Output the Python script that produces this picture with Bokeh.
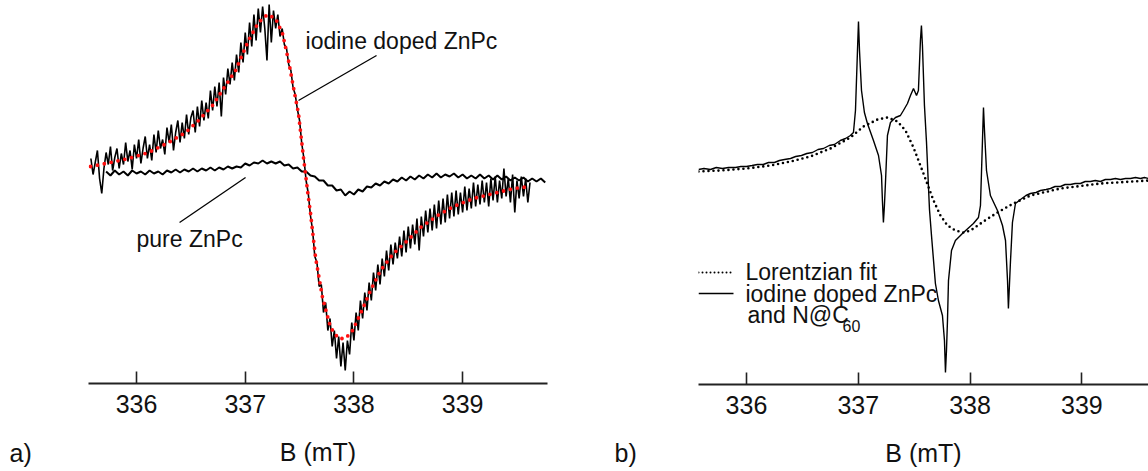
from bokeh.plotting import figure
from bokeh.layouts import row
from bokeh.models import Range1d, Label, FixedTicker
from bokeh.embed import file_html
from bokeh.resources import INLINE

FONT = "Liberation Sans"

# ---------------- axis / labels ----------------
TICKS = [336, 337, 338, 339]
TICK_LABELS = {336: "336", 337: "337", 338: "338", 339: "339"}
X_LABEL = "B (mT)"
PANEL_LABELS = ["a)", "b)"]

# ---------------- data: panel a (iodine doped ZnPc, noisy) ----------------
doped_B = [
    335.58, 335.60, 335.62, 335.64, 335.66, 335.68, 335.70, 335.72, 335.74, 335.76,
    335.78, 335.80, 335.82, 335.84, 335.86, 335.88, 335.90, 335.92, 335.94, 335.96,
    335.98, 336.00, 336.02, 336.04, 336.06, 336.08, 336.10, 336.12, 336.14, 336.16,
    336.18, 336.20, 336.22, 336.24, 336.26, 336.28, 336.30, 336.32, 336.34, 336.36,
    336.38, 336.40, 336.42, 336.44, 336.46, 336.48, 336.50, 336.52, 336.54, 336.56,
    336.58, 336.60, 336.62, 336.64, 336.66, 336.68, 336.70, 336.72, 336.74, 336.76,
    336.78, 336.80, 336.82, 336.84, 336.86, 336.88, 336.90, 336.92, 336.94, 336.96,
    336.98, 337.00, 337.02, 337.04, 337.06, 337.08, 337.10, 337.12, 337.14, 337.16,
    337.18, 337.20, 337.22, 337.24, 337.26, 337.28, 337.30, 337.32, 337.34, 337.36,
    337.38, 337.40, 337.42, 337.44, 337.46, 337.48, 337.50, 337.52, 337.54, 337.56,
    337.58, 337.60, 337.62, 337.64, 337.66, 337.68, 337.70, 337.72, 337.74, 337.76,
    337.78, 337.80, 337.82, 337.84, 337.86, 337.88, 337.90, 337.92, 337.94, 337.96,
    337.98, 338.00, 338.02, 338.04, 338.06, 338.08, 338.10, 338.12, 338.14, 338.16,
    338.18, 338.20, 338.22, 338.24, 338.26, 338.28, 338.30, 338.32, 338.34, 338.36,
    338.38, 338.40, 338.42, 338.44, 338.46, 338.48, 338.50, 338.52, 338.54, 338.56,
    338.58, 338.60, 338.62, 338.64, 338.66, 338.68, 338.70, 338.72, 338.74, 338.76,
    338.78, 338.80, 338.82, 338.84, 338.86, 338.88, 338.90, 338.92, 338.94, 338.96,
    338.98, 339.00, 339.02, 339.04, 339.06, 339.08, 339.10, 339.12, 339.14, 339.16,
    339.18, 339.20, 339.22, 339.24, 339.26, 339.28, 339.30, 339.32, 339.34, 339.36,
    339.38, 339.40, 339.42, 339.44, 339.46, 339.48, 339.50, 339.52, 339.54, 339.56,
    339.58, 339.60, 339.62]
doped_signal = [
    14, -2, 10, 22, -6, -21, 4, 20, 8, 26,
    2, 15, 24, 4, 19, 8, 30, 11, 22, 3,
    28, 14, 33, 9, 24, 36, 14, 28, 12, 38,
    20, 42, 24, 33, 18, 45, 30, 48, 22, 40,
    52, 30, 50, 34, 58, 38, 55, 62, 40, 66,
    46, 72, 52, 70, 54, 82, 62, 86, 66, 90,
    56, 95, 78, 104, 88, 110, 92, 118, 100, 130,
    110, 140, 118, 150, 126, 158, 132, 164, 140, 166,
    144, 112, 168, 130, 162, 144, 158, 136, 144, 128,
    124, 108, 102, 85, 78, 63, 52, 29, 14, -8,
    -21, -43, -58, -84, -90, -114, -112, -140, -130, -158,
    -146, -174, -158, -186, -164, -194, -170, -198, -168, -182,
    -150, -168, -140, -158, -128, -146, -120, -138, -110, -128,
    -100, -118, -92, -112, -86, -104, -78, -98, -72, -92,
    -70, -86, -64, -84, -58, -80, -54, -76, -52, -72,
    -46, -78, -44, -64, -38, -60, -36, -58, -32, -56,
    -28, -52, -26, -50, -22, -46, -20, -44, -18, -42,
    -20, -40, -14, -38, -16, -36, -10, -34, -12, -32,
    -8, -30, -10, -34, -6, -28, -4, -30, -8, -26,
    4, -24, -6, -30, -2, -40, -8, -26, -4, -24,
    -6, -30, -10]

# Lorentzian fit (red dotted)
fit_a_B = [335.577, 335.715, 335.926, 336.110, 336.294, 336.451, 336.570, 336.699, 336.819, 336.911,
           337.030, 337.122, 337.205, 337.279, 337.343, 337.398, 337.444, 337.490, 337.536, 337.573,
           337.601, 337.647, 337.711, 337.785, 337.858, 337.923, 337.987, 338.061, 338.153, 338.245,
           338.364, 338.493, 338.613, 338.769, 338.916, 339.100, 339.284, 339.468, 339.625]
fit_a_signal = [6, 9, 14, 20, 30, 40, 52, 67, 87, 102,
                132, 150, 158, 154, 139, 112, 85, 59, 15, -18,
                -41, -85, -125, -155, -166, -166, -158, -141, -118, -98,
                -81, -68, -55, -43, -34, -26, -21, -16, -14]

# pure ZnPc
pure_B = [335.72, 335.76, 335.80, 335.84, 335.88, 335.92, 335.96, 336.00, 336.04, 336.08,
          336.12, 336.16, 336.20, 336.24, 336.28, 336.32, 336.36, 336.40, 336.44, 336.48,
          336.52, 336.56, 336.60, 336.64, 336.68, 336.72, 336.76, 336.80, 336.84, 336.88,
          336.92, 336.96, 337.00, 337.04, 337.08, 337.12, 337.16, 337.20, 337.24, 337.28,
          337.32, 337.36, 337.40, 337.44, 337.48, 337.52, 337.56, 337.60, 337.64, 337.68,
          337.72, 337.76, 337.80, 337.84, 337.88, 337.92, 337.96, 338.00, 338.04, 338.08,
          338.12, 338.16, 338.20, 338.24, 338.28, 338.32, 338.36, 338.40, 338.44, 338.48,
          338.52, 338.56, 338.60, 338.64, 338.68, 338.72, 338.76, 338.80, 338.84, 338.88,
          338.92, 338.96, 339.00, 339.04, 339.08, 339.12, 339.16, 339.20, 339.24, 339.28,
          339.32, 339.36, 339.40, 339.44, 339.48, 339.52, 339.56, 339.60, 339.64, 339.68,
          339.72, 339.76]
pure_signal = [1, -3, 2, -2, 1, -3, 2, -1, 1, -2,
               2, -1, 1, -2, 2, 0, 3, 0, 3, 1,
               4, 1, 4, 2, 5, 2, 5, 3, 6, 4,
               6, 5, 9, 7, 10, 9, 12, 9, 11, 9,
               11, 7, 8, 4, 5, 1, 1, -3, -4, -8,
               -8, -13, -13, -18, -17, -23, -19, -22, -17, -19,
               -14, -15, -11, -13, -9, -11, -7, -9, -5, -8,
               -4, -7, -3, -6, -2, -5, -1, -5, -2, -4,
               -1, -5, -2, -6, -3, -6, -2, -6, -3, -7,
               -3, -7, -4, -8, -5, -8, -5, -9, -6, -9,
               -6, -10]

# ---------------- data: panel b ----------------
mix_B = [335.571, 335.62, 335.678, 335.73, 335.785, 335.84, 335.902, 335.95, 336.000, 336.05,
         336.098, 336.15, 336.197, 336.25, 336.295, 336.34, 336.394, 336.44, 336.492, 336.54,
         336.590, 336.64, 336.689, 336.74, 336.787, 336.84, 336.886, 336.930, 336.957, 336.975,
         336.993, 337.002, 337.011, 337.029, 337.055, 337.082, 337.136, 337.181, 337.208, 337.216,
         337.225, 337.234, 337.243, 337.261, 337.288, 337.333, 337.377, 337.404, 337.440, 337.467,
         337.494, 337.521, 337.538, 337.556, 337.565, 337.574, 337.592, 337.610, 337.637, 337.655,
         337.690, 337.717, 337.753, 337.771, 337.780, 337.789, 337.798, 337.807, 337.834, 337.869,
         337.941, 338.030, 338.075, 338.093, 338.111, 338.120, 338.129, 338.147, 338.182, 338.245,
         338.290, 338.317, 338.335, 338.343, 338.352, 338.361, 338.379, 338.406, 338.451, 338.50,
         338.540, 338.59, 338.630, 338.68, 338.719, 338.76, 338.809, 338.85, 338.898, 338.94,
         338.987, 339.03, 339.077, 339.12, 339.166, 339.21, 339.256, 339.30, 339.345, 339.39,
         339.435, 339.48, 339.524, 339.56, 339.596]
mix_signal = [0, 1, 0, 2, 1, 2, 2, 3, 3, 4,
              5, 5, 7, 7, 9, 10, 11, 13, 14, 16,
              17, 20, 21, 24, 25, 29, 31, 34, 37, 59,
              119, 148, 119, 79, 57, 46, 29, 14, -6, -31,
              -53, -36, -14, 34, 47, 52, 54, 59, 66, 74,
              81, 74, 79, 129, 144, 124, 64, 28, -40, -66,
              -114, -131, -146, -171, -203, -181, -151, -111, -81, -71,
              -63, -54, -48, -36, 29, 62, 39, -1, -26, -41,
              -56, -71, -111, -139, -116, -93, -53, -34, -30, -26,
              -24, -23, -21, -20, -19, -17, -17, -15, -15, -14,
              -14, -12, -12, -11, -12, -10, -10, -9, -10, -9,
              -9, -8, -9, -8, -9]

fit_b_B = [335.571, 335.767, 336.000, 336.215, 336.394, 336.572, 336.751, 336.930, 337.047, 337.172,
           337.261, 337.351, 337.422, 337.494, 337.583, 337.673, 337.735, 337.798, 337.869, 337.941,
           338.004, 338.120, 338.245, 338.388, 338.540, 338.809, 339.166, 339.596]
fit_b_signal = [-2, -1, 1, 4, 8, 13, 21, 32, 43, 50,
                52, 48, 39, 22, -4, -31, -46, -56, -61, -63,
                -61, -52, -43, -34, -26, -19, -14, -11]

LEGEND_LABELS = ["Lorentzian fit", "iodine doped ZnPc", "and N@C", "60"]


def make_fig(x0, x1, y0, y1, right, fw, fh, bottom):
    p = figure(frame_width=fw, frame_height=fh, output_backend="svg", toolbar_location=None,
               x_range=Range1d(x0, x1), y_range=Range1d(y0, y1), y_axis_location=None,
               min_border_left=0, min_border_right=right, min_border_top=0,
               min_border_bottom=bottom, background_fill_color="white",
               border_fill_color="white")
    p.outline_line_color = None
    p.xgrid.visible = False
    p.ygrid.visible = False
    ax = p.xaxis[0]
    ax.ticker = FixedTicker(ticks=TICKS)
    ax.major_label_overrides = TICK_LABELS
    ax.minor_tick_line_color = None
    ax.major_tick_in = 12
    ax.major_tick_out = 0
    ax.major_tick_line_width = 1.6
    ax.major_tick_line_color = "#222222"
    ax.axis_line_width = 2
    ax.axis_line_color = "#222222"
    ax.major_label_text_font = FONT
    ax.major_label_text_font_size = "25px"
    ax.major_label_text_color = "#111111"
    ax.major_label_standoff = 11
    ax.axis_label = X_LABEL
    ax.axis_label_text_font = FONT
    ax.axis_label_text_font_size = "25px"
    ax.axis_label_text_font_style = "normal"
    ax.axis_label_text_color = "#111111"
    ax.axis_label_standoff = 22
    return p


def side_fig(w, text, tx):
    p = figure(width=w, height=471, output_backend="svg", toolbar_location=None,
               x_range=Range1d(0, w), y_range=Range1d(0, 471), x_axis_location=None,
               y_axis_location=None, min_border=0, border_fill_color="white",
               frame_align=False)
    p.outline_line_color = None
    p.grid.visible = False
    p.add_layout(Label(x=tx, y=19, text=text, text_font=FONT, text_font_size="25px",
                       text_baseline="middle", text_align="left", text_color="#111111"))
    return p


def label(p, x, y, text, size="23px"):
    p.add_layout(Label(x=x, y=y, text=text, text_font=FONT, text_font_size=size,
                       text_baseline="middle", text_align="left", text_color="#111111"))


# ---------------- panel a ----------------
sa = side_fig(88, PANEL_LABELS[0], 9)
pa = make_fig(335.558, 339.781, -211, 172, 27, 459, 383, 88)
pa.line(doped_B, doped_signal, line_color="black", line_width=1.6)
pa.line(pure_B, pure_signal, line_color="black", line_width=2.0)
pa.line(fit_a_B, fit_a_signal, line_color="#ff1010", line_width=3.8,
        line_dash="0 7", line_cap="round")
pa.segment(x0=[337.490, 336.396], y0=[72, -50], x1=[338.208, 337.003], y1=[117, -5],
           line_color="black", line_width=1.3)
label(pa, 337.555, 132, "iodine doped ZnPc")
label(pa, 336.0, -66, "pure ZnPc")

# ---------------- panel b ----------------
sb = side_fig(124, PANEL_LABELS[1], 40)
pb = make_fig(335.571, 339.596, -215, 169, 0, 450, 384, 87)
pb.line(fit_b_B, fit_b_signal, line_color="black", line_width=2.6,
        line_dash="0 5", line_cap="round")
pb.line(mix_B, mix_signal, line_color="black", line_width=1.4)
# legend samples
pb.line([335.571, 335.884], [-103, -103], line_color="black", line_width=2,
        line_dash="0 4", line_cap="round")
pb.line([335.571, 335.884], [-124, -124], line_color="black", line_width=1.3)
label(pb, 335.991, -102, LEGEND_LABELS[0])
label(pb, 335.991, -124, LEGEND_LABELS[1])
label(pb, 336.009, -145, LEGEND_LABELS[2])
label(pb, 336.859, -156, LEGEND_LABELS[3], size="16px")

layout = row(sa, pa, sb, pb)
open("out.html", "w").write(file_html(layout, INLINE))
